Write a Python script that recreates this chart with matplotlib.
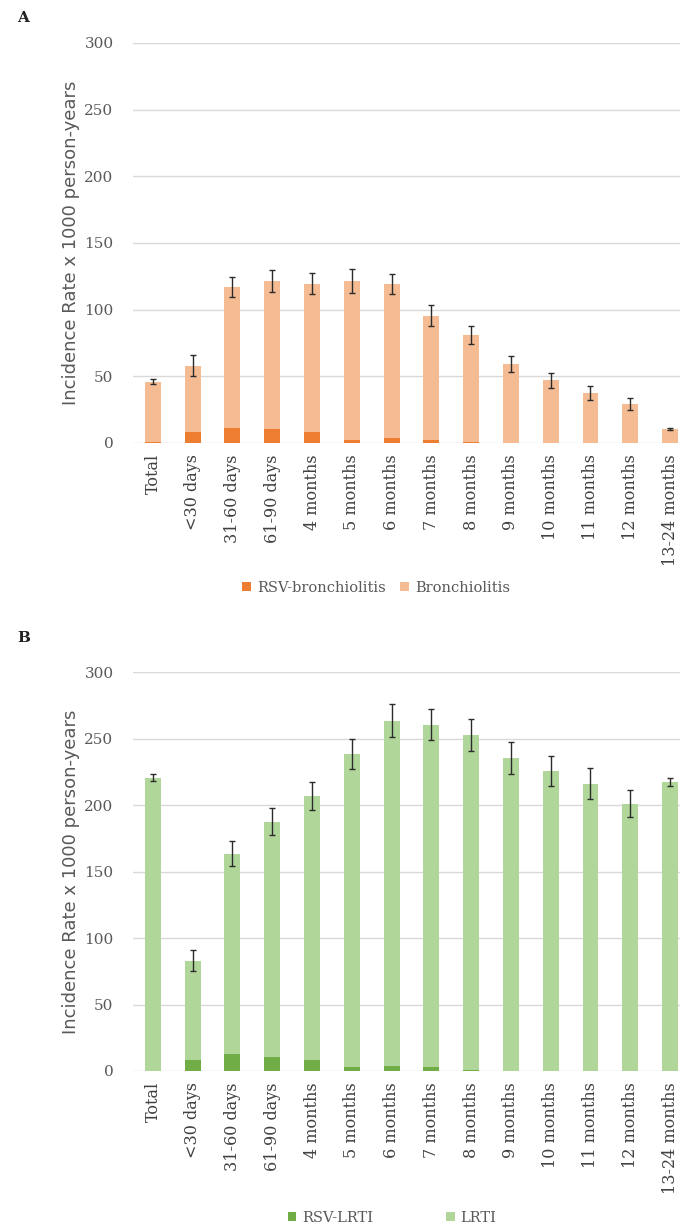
import matplotlib.pyplot as plt
import numpy as np

# Age groups (x axis)
categories = ['Total', '<30 days', '31-60 days', '61-90 days', '4 months', '5 months',
              '6 months', '7 months', '8 months', '9 months', '10 months', '11 months',
              '12 months', '13-24 months']

# Panel A - bronchiolitis
bronch = [46, 58, 117, 121.5, 119.5, 121.5, 119.5, 95.5, 81, 59.5, 47, 37.5, 29, 10.5]
bronch_err = [2, 8, 7.5, 8, 8, 9, 7.5, 8, 6.5, 6, 5.5, 5.5, 4.5, 0.7]
rsv_bronch = [0.5, 8.3, 11, 10.3, 8.3, 2.5, 3.5, 2.2, 0.8, 0.3, 0.2, 0.2, 0.2, 0.2]

# Panel B - LRTI
lrti = [220.5, 83, 163.5, 187.5, 206.5, 238.5, 263.5, 260.5, 252.5, 235.5, 225.5, 216, 201, 217.5]
lrti_err = [2.5, 8, 9.5, 10, 10.5, 11.5, 12.5, 12, 12, 12, 11.5, 11.5, 10, 3]
rsv_lrti = [0.3, 8.3, 12.8, 10.5, 8.3, 2.8, 3.8, 2.8, 0.5, 0.3, 0.3, 0.3, 0.3, 0.3]

x = np.arange(len(categories))
width = 0.4

fig = plt.figure(figsize=(6.8, 12.26), dpi=100)
axA = fig.add_axes([133 / 680, 1 - 443 / 1226, 1 - 133 / 680, 400 / 1226])
axB = fig.add_axes([133 / 680, 1 - 1071 / 1226, 1 - 133 / 680, 399 / 1226])

tick_font = 'DejaVu Serif'


def draw_panel(ax, total, err, rsv, c_light, c_dark, lab_rsv, lab_tot):
    ax.bar(x, total, width, color=c_light, label=lab_tot, zorder=2,
           yerr=err, error_kw=dict(ecolor='#2b2b2b', elinewidth=1, capsize=2, capthick=1))
    ax.bar(x, rsv, width, color=c_dark, label=lab_rsv, zorder=3)
    ax.set_ylim(0, 300)
    ax.set_xlim(-0.5, 13.25)
    ax.set_yticks(range(0, 301, 50))
    ax.yaxis.grid(True, color='#d9d9d9', linewidth=1, zorder=0)
    ax.set_axisbelow(True)
    for s in ax.spines.values():
        s.set_visible(False)
    ax.tick_params(axis='y', length=0, colors='#595959', labelsize=11, pad=14)
    ax.tick_params(axis='x', length=0, colors='#404040', labelsize=11.5, pad=8)
    ax.set_xticks(x)
    ax.set_xticklabels(categories, rotation=90, family=tick_font)
    for t in ax.get_yticklabels():
        t.set_family(tick_font)
    ax.set_ylabel('Incidence Rate x 1000 person-years', fontsize=13,
                  family='DejaVu Sans', color='#595959', labelpad=3)


draw_panel(axA, bronch, bronch_err, rsv_bronch, '#f5bc94', '#ed7d31',
           'RSV-bronchiolitis', 'Bronchiolitis')
draw_panel(axB, lrti, lrti_err, rsv_lrti, '#b1d69a', '#70ad47', 'RSV-LRTI', 'LRTI')

# Legends
for ax, ycen, xcen, cs in [(axA, 588, 376, 1.0), (axB, 1218, 392, 5.0)]:
    h, l = ax.get_legend_handles_labels()
    fig.legend([h[1], h[0]], [l[1], l[0]], loc='center', ncol=2, frameon=False,
               bbox_to_anchor=(xcen / 680, 1 - ycen / 1226),
               prop={'family': tick_font, 'size': 10.5}, labelcolor='#595959',
               handlelength=0.6, handleheight=0.6, handletextpad=0.4, columnspacing=cs)

fig.text(17 / 680, 1 - 18 / 1226, 'A', family=tick_font, fontsize=11,
         fontweight='bold', va='center', color='#222222')
fig.text(17 / 680, 1 - 638 / 1226, 'B', family=tick_font, fontsize=11,
         fontweight='bold', va='center', color='#222222')

fig.savefig('out.png', dpi=100)
